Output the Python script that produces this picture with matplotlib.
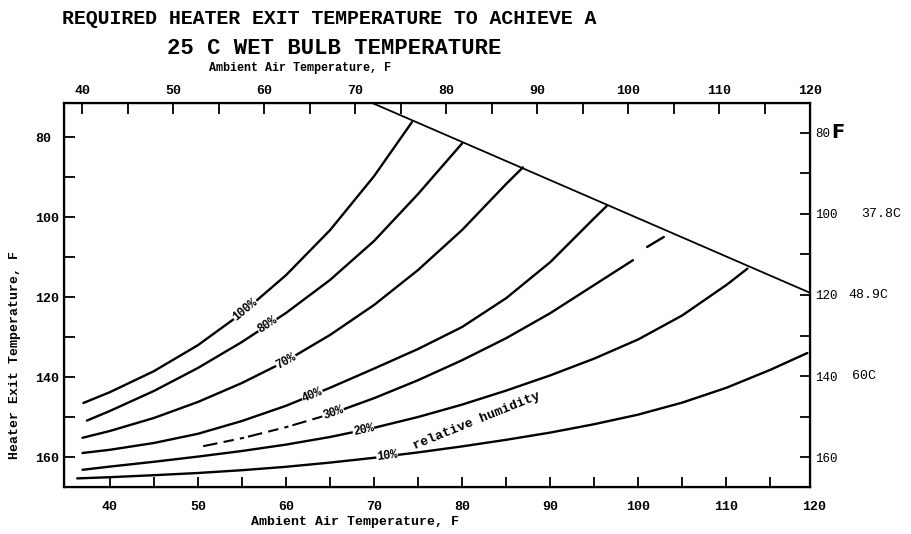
import matplotlib.pyplot as plt
import matplotlib.transforms as mtransforms
import numpy as np

# relative humidity curves: ambient air temp (F, bottom scale) -> heater exit temp (F)
rh_labels = ['100%', '80%', '70%', '40%', '30%', '20%', '10%']

x_100 = [37.0, 40, 45, 50, 55, 60, 65, 70, 74.3]
y_100 = [146.5, 143.8, 138.55, 132.05, 124.05, 114.55, 103.3, 89.8, 76.3]

x_80 = [37.4, 40, 45, 50, 55, 60, 65, 70, 75, 80.0]
y_80 = [150.9, 148.5, 143.5, 137.75, 131.25, 124.0, 115.75, 106.0, 94.25, 81.6]

x_70 = [36.9, 40, 45, 50, 55, 60, 65, 70, 75, 80, 85, 86.9]
y_70 = [155.2, 153.5, 150.25, 146.25, 141.5, 136.0, 129.5, 122.0, 113.25, 103.25, 91.75, 87.6]

x_40 = [36.9, 40, 45, 50, 55, 60, 65, 70, 75, 80, 85, 90, 95, 96.4]
y_40 = [159.0, 158.2, 156.5, 154.2, 151.0, 147.2, 142.7, 137.9, 133.0, 127.5, 120.3, 111.3, 100.3, 97.3]

x_30 = [50.6, 55, 60, 65, 70, 75, 80, 85, 90, 95, 99.4]
y_30 = [157.3, 155.3, 152.55, 149.3, 145.3, 140.8, 135.8, 130.3, 124.05, 117.0, 110.8]
x_30_end = [101.0, 102.9]
y_30_end = [107.5, 105.0]

x_20 = [36.9, 40, 45, 50, 55, 60, 65, 70, 75, 80, 85, 90, 95, 100, 105, 110, 112.4]
y_20 = [163.2, 162.4, 161.2, 159.9, 158.5, 156.9, 155.0, 152.7, 150.0, 146.9, 143.4,
        139.6, 135.4, 130.6, 124.6, 117.0, 112.9]

x_10 = [36.3, 40, 45, 50, 55, 60, 65, 70, 75, 80, 85, 90, 95, 100, 105, 110, 115, 119.2]
y_10 = [165.35, 165.05, 164.55, 164.0, 163.3, 162.45, 161.4, 160.2, 158.85, 157.35, 155.7,
        153.9, 151.8, 149.4, 146.4, 142.7, 138.2, 134.0]

# saturation line (heater exit = ambient)
x_sat = [69.8, 119.55]
y_sat = [71.5, 119.0]

# where each curve label sits (ambient temp)
label_x = [55.4, 57.9, 60.0, 63.0, 65.4, 68.8, 71.5]

bottom_ticks = list(range(40, 120, 5))
top_ticks = list(range(40, 121, 5))
y_ticks = list(range(80, 161, 10))
c_labels = ['37.8C', '48.9C', '60C']
c_at_f = [100, 120, 140]

mono = 'Liberation Mono'

fig = plt.figure(figsize=(9.12, 5.34), dpi=100)
ax = fig.add_axes([64 / 912, 1 - 487 / 534, 746 / 912, 384 / 534])
ax.set_xlim(34.8, 119.5)
ax.set_ylim(167.5, 71.5)

lw = 1.7
line_kw = dict(color='black', lw=lw, solid_joinstyle='round', solid_capstyle='round')
curves = [(x_100, y_100), (x_80, y_80), (x_70, y_70), (x_40, y_40),
          (x_30, y_30), (x_20, y_20), (x_10, y_10)]
for i, (xs, ys) in enumerate(curves):
    if rh_labels[i] == '30%':
        # broken start of the 30% curve, solid after its label
        split = 4
        ax.plot(xs[:split], ys[:split], color='black', lw=lw - 0.2,
                dashes=(7, 3, 5, 3, 2, 2))
        ax.plot(xs[split - 1:], ys[split - 1:], **line_kw)
        ax.plot(x_30_end, y_30_end, **line_kw)
    else:
        ax.plot(xs, ys, **line_kw)
ax.plot(x_sat, y_sat, color='black', lw=1.3)


def angle_at(xs, ys, x0):
    p1 = ax.transData.transform((x0 - 1.0, np.interp(x0 - 1.0, xs, ys)))
    p2 = ax.transData.transform((x0 + 1.0, np.interp(x0 + 1.0, xs, ys)))
    return np.degrees(np.arctan2(p2[1] - p1[1], p2[0] - p1[0]))


for (xs, ys), lab, lx in zip(curves, rh_labels, label_x):
    ly = np.interp(lx, xs, ys)
    ax.text(lx, ly, lab, fontsize=8.5, fontweight='bold', family=mono,
            rotation=angle_at(xs, ys, lx), rotation_mode='anchor',
            ha='center', va='center',
            bbox=dict(facecolor='white', edgecolor='none', pad=0.3))
ax.text(81.7, 150.9, 'relative humidity', fontsize=9.5, fontweight='bold',
        family=mono, rotation=22, rotation_mode='anchor', ha='center', va='center')

# bottom / left axes
ax.set_xticks(bottom_ticks)
ax.set_xticklabels([str(t) if t % 10 == 0 else '' for t in bottom_ticks])
ax.set_yticks(y_ticks)
ax.set_yticklabels([str(t) if t % 20 == 0 else '' for t in y_ticks])
ax.tick_params(axis='x', direction='in', length=7, width=1.3, pad=10,
               labelsize=9.5)
ax.tick_params(axis='y', direction='in', length=8, width=1.3, pad=21,
               labelsize=9.5)
for t in ax.get_yticklabels():
    t.set_ha('left')
for t in ax.get_xticklabels() + ax.get_yticklabels():
    t.set_family(mono)
    t.set_fontweight('bold')
ax.text(120, -14 / 384, '120',
        transform=mtransforms.blended_transform_factory(ax.transData, ax.transAxes),
        ha='center', va='top', fontsize=9.5, fontweight='bold', family=mono)
for s in ax.spines.values():
    s.set_linewidth(1.6)

# top scale
top = ax.twiny()
top.set_xlim(38.0, 120)
top.set_xticks(top_ticks)
top.set_xticklabels([str(t) if t % 10 == 0 else '' for t in top_ticks])
top.tick_params(axis='x', direction='in', length=8, width=1.3, pad=4, labelsize=9.5)
for t in top.get_xticklabels():
    t.set_family(mono)
    t.set_fontweight('bold')

# right scale
right = ax.twinx()
right.set_ylim(167.4, 72.6)
right.set_yticks(y_ticks)
right.set_yticklabels([str(t) if t % 20 == 0 else '' for t in y_ticks])
right.tick_params(axis='y', direction='in', length=7, width=1.3, pad=4, labelsize=9)
for t in right.get_yticklabels():
    t.set_family(mono)
blend = mtransforms.blended_transform_factory(right.transAxes, right.transData)
right.text(1.0375, 80, 'F', transform=blend, fontsize=14, fontweight='bold',
           ha='center', va='center')
for lab, f, xo in zip(c_labels, c_at_f, [1.069, 1.051, 1.056]):
    right.text(xo, f, lab, transform=blend, fontsize=9.5, family=mono,
               ha='left', va='center')

# titles and axis labels
fig.text(62 / 912, 1 - 18 / 534, 'REQUIRED HEATER EXIT TEMPERATURE TO ACHIEVE A',
         fontsize=14.3, fontweight='bold', family=mono, ha='left', va='center')
fig.text(334 / 912, 1 - 48 / 534, '25 C WET BULB TEMPERATURE',
         fontsize=16, fontweight='bold', family=mono, ha='center', va='center')
fig.text(300 / 912, 1 - 68 / 534, 'Ambient Air Temperature, F',
         fontsize=8.5, fontweight='bold', family=mono, ha='center', va='center')
fig.text(355 / 912, 1 - 522 / 534, 'Ambient Air Temperature, F',
         fontsize=9.5, fontweight='bold', family=mono, ha='center', va='center')
fig.text(15 / 912, 1 - 355 / 534, 'Heater Exit Temperature, F', rotation=90,
         fontsize=9.5, fontweight='bold', family=mono, ha='center', va='center')

fig.savefig('out.png', dpi=100)
